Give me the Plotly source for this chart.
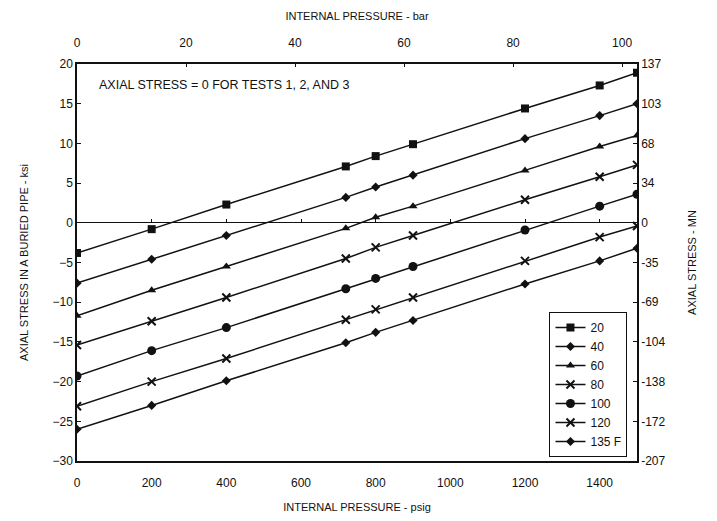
import plotly.graph_objects as go

# Internal pressure (psig) at which axial stress was evaluated
pressure_psig = [0, 200, 400, 720, 800, 900, 1200, 1400, 1500]

# Axial stress (ksi) for each temperature differential
temps = ["20", "40", "60", "80", "100", "120", "135 F"]
stress_20 = [-3.8, -0.8, 2.3, 7.1, 8.4, 9.9, 14.4, 17.3, 18.9]
stress_40 = [-7.6, -4.6, -1.6, 3.2, 4.5, 6.0, 10.6, 13.5, 15.0]
stress_60 = [-11.7, -8.5, -5.5, -0.7, 0.7, 2.1, 6.6, 9.6, 11.0]
stress_80 = [-15.4, -12.4, -9.4, -4.5, -3.1, -1.6, 2.9, 5.8, 7.3]
stress_100 = [-19.3, -16.1, -13.2, -8.3, -7.0, -5.5, -0.9, 2.1, 3.6]
stress_120 = [-23.1, -20.0, -17.1, -12.2, -10.9, -9.4, -4.8, -1.8, -0.4]
stress_135 = [-26.0, -23.0, -19.9, -15.1, -13.8, -12.3, -7.7, -4.8, -3.2]

# Axis ticks
psig_ticks = [0, 200, 400, 600, 800, 1000, 1200, 1400]
bar_ticks = [0, 20, 40, 60, 80, 100]
ksi_ticks = [20, 15, 10, 5, 0, -5, -10, -15, -20, -25, -30]
mn_labels = ["137", "103", "68", "34", "0", "-35", "-69", "-104", "-138", "-172", "-207"]

PSI_PER_BAR = 14.6

series = [stress_20, stress_40, stress_60, stress_80, stress_100, stress_120, stress_135]
symbols = ["square", "diamond", "triangle-up", "x-thin", "circle", "x-thin", "diamond"]
sizes = [8, 7, 8, 8, 9, 8, 7]

FONT = "Liberation Sans"
BLACK = "#111111"

fig = go.Figure()
for name, ys, sym, sz in zip(temps, series, symbols, sizes):
    fig.add_trace(go.Scatter(
        x=pressure_psig, y=ys, name=name, mode="lines+markers",
        line=dict(color=BLACK, width=1.5),
        marker=dict(symbol=sym, size=sz, color=BLACK,
                    line=dict(color=BLACK, width=2 if "x" in sym else 0)),
    ))

# invisible traces so the secondary axes are drawn
fig.add_trace(go.Scatter(x=[0], y=[0], xaxis="x2", yaxis="y2", mode="markers",
                         marker=dict(opacity=0), showlegend=False, hoverinfo="skip"))
fig.add_trace(go.Scatter(x=[0], y=[0], xaxis="x3", yaxis="y", mode="markers",
                         marker=dict(opacity=0), showlegend=False, hoverinfo="skip"))

axis_common = dict(showgrid=False, showline=True, linecolor=BLACK, linewidth=1.5,
                   automargin=False,
                   tickfont=dict(family=FONT, size=12, color=BLACK), tickcolor=BLACK)

fig.update_layout(
    width=717, height=521,
    margin=dict(l=77, r=80, t=64, b=60),
    paper_bgcolor="white", plot_bgcolor="white",
    font=dict(family=FONT, color=BLACK, size=12),
    xaxis=dict(range=[0, 1500], tickvals=psig_ticks, ticks="", zeroline=False,
               ticklabelstandoff=10,
               title=dict(text="INTERNAL PRESSURE - psig", font=dict(size=11), standoff=14),
               **axis_common),
    xaxis2=dict(range=[0, 1500], overlaying="x", side="top", anchor="y",
                tickvals=[b * PSI_PER_BAR for b in bar_ticks],
                ticktext=[str(b) for b in bar_ticks],
                ticks="inside", ticklen=3, zeroline=False, ticklabelstandoff=10,
                title=dict(text="INTERNAL PRESSURE - bar", font=dict(size=11), standoff=14),
                **axis_common),
    xaxis3=dict(range=[0, 1500], overlaying="x", anchor="free", position=0.6,
                tickvals=psig_ticks[1:], showticklabels=False, ticks="inside",
                ticklen=4, tickwidth=1, tickcolor=BLACK, showline=False,
                showgrid=False, zeroline=False),
    yaxis=dict(range=[-30, 20], tickvals=ksi_ticks, ticks="inside", ticklen=4,
               zeroline=True, zerolinecolor=BLACK, zerolinewidth=1.2,
               title=dict(text="AXIAL STRESS IN A BURIED PIPE - ksi", font=dict(size=11),
                          standoff=22),
               **axis_common),
    yaxis2=dict(range=[-30, 20], overlaying="y", side="right", anchor="x",
                tickvals=ksi_ticks, ticktext=mn_labels, ticks="inside", ticklen=4,
                zeroline=False,
                title=dict(text="AXIAL STRESS - MN", font=dict(size=11), standoff=24),
                **axis_common),
    legend=dict(x=0.983, xanchor="right", y=0.01, yanchor="bottom",
                bgcolor="white", bordercolor=BLACK, borderwidth=1,
                font=dict(family=FONT, size=12, color=BLACK),
                itemwidth=30, tracegroupgap=0),
    showlegend=True,
)

fig.add_annotation(
    text="AXIAL STRESS = 0 FOR TESTS 1, 2, AND 3",
    xref="paper", yref="paper", x=0.035, y=0.948, xanchor="left", yanchor="middle",
    showarrow=False, font=dict(family=FONT, size=12.5, color=BLACK),
)

fig.write_html("out.html")
